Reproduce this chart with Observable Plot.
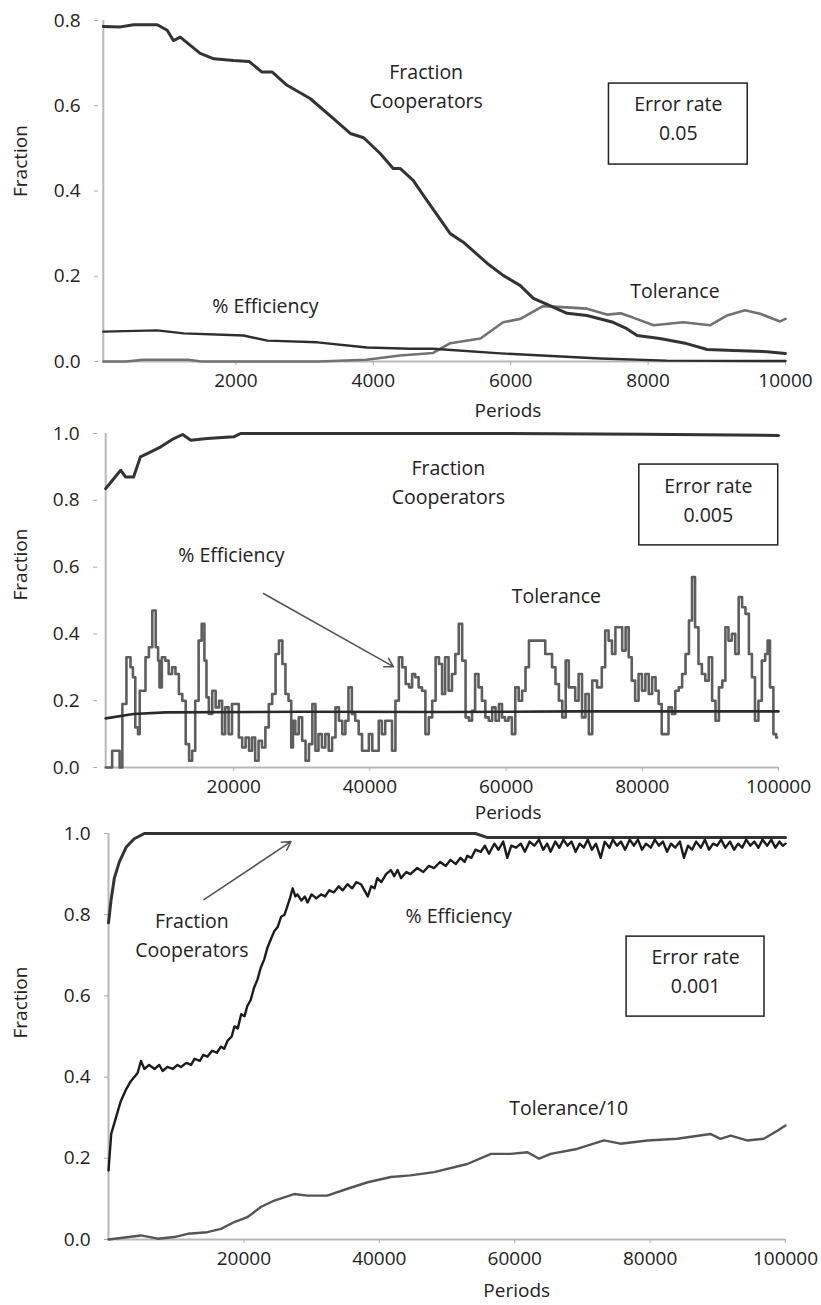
<!DOCTYPE html>
<html>
<head>
<meta charset="utf-8">
<script src="https://cdn.jsdelivr.net/npm/d3@7"></script>
<script src="https://cdn.jsdelivr.net/npm/@observablehq/plot@0.6"></script>
<style>
  html, body { margin: 0; padding: 0; background: #fff; }
  #chart { width: 821px; }
  #chart svg { display: block; overflow: visible; }
</style>
</head>
<body>
<div id="chart"></div>
<script>
// ---------- Panel 1: error rate 0.05 (periods 0..10000) ----------
const p1Ticks = [2000, 4000, 6000, 8000, 10000];
const p1YTicks = [0, 0.2, 0.4, 0.6, 0.8];
const p1Cooperators = [[70,.786],[320,.785],[510,.79],[855,.79],[1000,.777],[1090,.753],[1190,.761],[1480,.723],[1680,.71],[1965,.706],[2190,.704],[2380,.679],[2530,.679],[2745,.648],[3080,.617],[3420,.57],[3665,.535],[3860,.525],[4100,.488],[4290,.453],[4390,.453],[4580,.425],[4780,.378],[5120,.30],[5310,.28],[5660,.23],[5890,.202],[6140,.178],[6330,.148],[6530,.134],[6820,.113],[7110,.108],[7490,.092],[7690,.077],[7840,.061],[8170,.054],[8560,.042],[8860,.028],[9240,.026],[9730,.023],[10000,.019]];
const p1Efficiency = [[70,.070],[855,.073],[1240,.066],[2110,.061],[2460,.049],[3185,.045],[3910,.033],[4540,.030],[4870,.030],[5850,.019],[7300,.007],[8270,.002],[10000,.001]];
const p1Tolerance = [[70,0],[400,0],[650,.004],[1300,.004],[1500,0],[3200,0],[3900,.004],[4390,.014],[4870,.02],[5120,.043],[5560,.054],[5890,.092],[6140,.10],[6470,.13],[6820,.127],[7110,.124],[7400,.11],[7600,.113],[7780,.103],[8080,.085],[8510,.092],[8900,.085],[9150,.108],[9410,.12],[9630,.112],[9920,.094],[10000,.10]];
const p1Notes = [
  {x: 4770, y: 0.65, text: "Fraction\nCooperators"},
  {x: 2430, y: 0.136, text: "% Efficiency"},
  {x: 8390, y: 0.171, text: "Tolerance"}
];
const p1Box = {x1: 7430, x2: 9450, y1: 0.462, y2: 0.652, text: "Error rate\n0.05", cx: 8440, cy: 0.575};

// ---------- Panel 2: error rate 0.005 (periods 0..100000) ----------
const p2Ticks = [20000, 40000, 60000, 80000, 100000];
const p2YTicks = [0, 0.2, 0.4, 0.6, 0.8, 1.0];
const p2Cooperators = [[1200,.835],[2200,.86],[3400,.89],[4100,.87],[5300,.87],[6300,.93],[7300,.94],[9300,.96],[11200,.985],[12500,.997],[13700,.98],[16100,.985],[20000,.99],[21000,1.0],[60000,1.0],[80000,.998],[100000,.994]];
const p2Efficiency = [[1200,.147],[5300,.16],[10000,.165],[30000,.167],[50000,.166],[70000,.168],[100000,.168]];
const p2Tolerance = [[1200,0],[1900,0],[2400,.05],[3100,.05],[3400,0],[3900,.19],[4600,.33],[5100,.30],[5300,.27],[5800,.12],[6100,.10],[6300,.23],[6800,.23],[7300,.33],[7800,.36],[8300,.47],[8800,.36],[9000,.32],[9200,.24],[9700,.33],[10200,.32],[10700,.28],[11200,.30],[11700,.28],[12200,.22],[12700,.20],[13200,.07],[13700,.02],[14100,.05],[14600,.20],[15100,.38],[15500,.43],[15900,.32],[16100,.21],[16600,.16],[17100,.23],[17600,.18],[18100,.20],[18500,.10],[19000,.18],[19500,.10],[20000,.19],[20500,.19],[21000,.09],[21500,.06],[22000,.09],[22500,.05],[22900,.09],[23400,.02],[23900,.08],[24400,.06],[24900,.12],[25400,.19],[25900,.22],[26400,.34],[26900,.38],[27400,.31],[27800,.22],[28300,.20],[28600,.06],[28800,.14],[29300,.10],[29800,.15],[30300,.08],[30800,.02],[31300,.07],[31800,.19],[32200,.05],[32700,.10],[33200,.06],[33700,.10],[34200,.05],[34700,.09],[35200,.18],[35700,.14],[36200,.10],[36600,.14],[37100,.24],[37600,.16],[38100,.14],[38600,.10],[39100,.05],[39600,.05],[40100,.10],[40600,.05],[41100,.05],[41500,.14],[42000,.10],[42500,.14],[43000,.14],[43500,.05],[44000,.20],[44500,.33],[45000,.30],[45500,.25],[46000,.24],[46400,.28],[46900,.27],[47400,.24],[47900,.23],[48400,.10],[48900,.15],[49400,.20],[49900,.33],[50400,.31],[50800,.22],[51300,.33],[51800,.23],[52300,.28],[52800,.34],[53300,.43],[53800,.32],[54300,.15],[54800,.14],[55200,.17],[55700,.28],[56200,.24],[56700,.20],[57200,.15],[57700,.14],[58200,.18],[58700,.14],[59200,.19],[59600,.15],[60100,.14],[60600,.15],[61100,.10],[61600,.24],[62100,.20],[62600,.23],[63100,.30],[63600,.38],[64100,.38],[64500,.38],[65000,.38],[65500,.38],[66000,.34],[66500,.34],[67000,.30],[67500,.25],[68000,.20],[68500,.15],[69000,.32],[69400,.24],[69900,.24],[70400,.20],[70900,.28],[71400,.15],[71900,.22],[72400,.10],[72900,.26],[73800,.24],[74300,.30],[74800,.41],[75300,.38],[75800,.34],[76300,.42],[76800,.42],[77300,.35],[77800,.42],[78200,.33],[78700,.26],[79200,.20],[79700,.28],[80200,.23],[80700,.28],[81200,.22],[81700,.27],[82200,.23],[82600,.19],[83100,.10],[83600,.10],[84100,.18],[84600,.16],[85100,.23],[85600,.24],[86100,.28],[86600,.34],[87100,.44],[87500,.57],[88000,.42],[88500,.31],[89000,.28],[89500,.26],[90000,.33],[90500,.20],[91000,.14],[91500,.24],[92000,.26],[92400,.42],[92900,.38],[93400,.40],[93900,.34],[94400,.51],[94900,.48],[95400,.46],[95900,.34],[96300,.27],[96800,.14],[97300,.20],[97800,.32],[98300,.34],[98500,.38],[99000,.24],[99500,.10],[99800,.09]];
const p2Notes = [
  {x: 51520, y: 0.861, text: "Fraction\nCooperators"},
  {x: 19670, y: 0.644, text: "% Efficiency"},
  {x: 67380, y: 0.521, text: "Tolerance"}
];
const p2Box = {x1: 79560, x2: 99960, y1: 0.665, y2: 0.907, text: "Error rate\n0.005", cx: 89690, cy: 0.807};
const p2Arrow = {x1: 24370, y1: 0.521, x2: 43450, y2: 0.302};

// ---------- Panel 3: error rate 0.001 (periods 0..100000) ----------
const p3Ticks = [20000, 40000, 60000, 80000, 100000];
const p3YTicks = [0, 0.2, 0.4, 0.6, 0.8, 1.0];
const p3Cooperators = [[0,.78],[370,.835],[860,.89],[1600,.93],[2600,.966],[3800,.987],[5300,1.0],[54200,1.0],[56000,.99],[100000,.99]];
const p3Efficiency = [[0,.17],[400,.26],[1100,.30],[1800,.34],[2600,.37],[3300,.39],[4300,.41],[4800,.44],[5300,.42],[6000,.43],[6800,.42],[7500,.43],[8000,.415],[8700,.425],[9500,.42],[10200,.43],[10700,.425],[11500,.435],[12200,.43],[12700,.445],[13500,.44],[14000,.455],[14600,.45],[15300,.465],[16000,.46],[16600,.475],[17100,.47],[17600,.49],[18200,.50],[18600,.525],[19100,.52],[19600,.555],[20100,.55],[20500,.575],[21000,.59],[21500,.62],[22000,.64],[22500,.67],[23000,.69],[23500,.72],[24000,.74],[24500,.76],[25000,.77],[25500,.795],[26000,.80],[26400,.82],[26800,.84],[27200,.865],[27600,.845],[27900,.85],[28500,.835],[29000,.845],[29400,.83],[30000,.85],[30700,.84],[31400,.85],[32000,.845],[32600,.86],[33300,.855],[34000,.87],[34600,.86],[35300,.875],[36000,.865],[36600,.88],[37300,.875],[37800,.86],[38300,.845],[38800,.87],[39300,.865],[39700,.89],[40300,.88],[41000,.90],[41700,.91],[42200,.895],[42700,.91],[43200,.89],[44000,.905],[44600,.90],[45600,.915],[46500,.905],[47300,.92],[48100,.915],[49000,.93],[49800,.92],[50500,.935],[51300,.925],[52000,.94],[52600,.93],[53000,.945],[53600,.94],[54200,.96],[55000,.955],[55600,.97],[56200,.95],[57000,.975],[57600,.96],[58300,.98],[58900,.94],[59500,.97],[60200,.965],[60900,.975],[61500,.955],[62200,.98],[62900,.97],[63600,.985],[64200,.96],[64800,.975],[65300,.955],[66000,.98],[66600,.965],[67200,.985],[67800,.97],[68400,.98],[69000,.955],[69600,.975],[70200,.965],[70800,.985],[71400,.96],[72000,.975],[72700,.94],[73300,.98],[74000,.965],[74500,.985],[75100,.97],[75700,.98],[76300,.96],[77000,.985],[77600,.97],[78200,.985],[78800,.96],[79400,.975],[80100,.965],[80700,.985],[81300,.97],[81900,.98],[82500,.955],[83100,.975],[83700,.965],[84400,.98],[85000,.94],[85600,.97],[86200,.96],[86800,.98],[87500,.965],[88100,.985],[88700,.96],[89300,.975],[89900,.97],[90500,.985],[91100,.965],[91800,.98],[92400,.96],[93000,.975],[93600,.965],[94200,.985],[94800,.97],[95400,.98],[96000,.965],[96600,.985],[97300,.97],[97900,.985],[98500,.965],[99100,.98],[99600,.97],[100000,.975]];
const p3Tolerance10 = [[0,0],[4800,.01],[7300,.002],[9700,.006],[11700,.014],[14600,.018],[16600,.026],[18600,.043],[20500,.055],[22500,.08],[24500,.096],[27400,.112],[29400,.108],[32300,.108],[35300,.125],[38300,.141],[41700,.154],[44600,.158],[48100,.166],[53000,.186],[56500,.211],[59400,.211],[61900,.215],[63600,.199],[65300,.211],[69200,.223],[73200,.244],[75600,.236],[79600,.244],[84000,.248],[88900,.26],[90400,.248],[91900,.256],[94300,.244],[96800,.248],[98800,.268],[100000,.281]];
const p3Notes = [
  {x: 12320, y: 0.754, text: "Fraction\nCooperators"},
  {x: 51730, y: 0.803, text: "% Efficiency"},
  {x: 67970, y: 0.33, text: "Tolerance/10"}
];
const p3Box = {x1: 76530, x2: 96900, y1: 0.549, y2: 0.746, text: "Error rate\n0.001", cx: 86720, cy: 0.666};
const p3Arrow = {x1: 14100, y1: 0.837, x2: 26940, y2: 0.980};

// ---------- drawing ----------
const INK = "#222";
const FONT = "'Open Sans', 'Noto Sans', sans-serif";
const NOTE_SIZE = 19.5;

function panel(c) {
  const marks = [
    Plot.ruleX([c.axisStart], {y1: 0, y2: c.yMax, stroke: "#b8b8b8", strokeWidth: 2}),
    Plot.ruleY([0], {x1: c.axisStart, x2: c.xMax, stroke: "#b8b8b8", strokeWidth: 2}),
    Plot.axisX({ticks: c.xTicks, tickFormat: d3.format("d"), tickSize: 4, tickPadding: 8, stroke: "#aaa", label: null}),
    Plot.axisY({ticks: c.yTicks, tickFormat: d3.format(".1f"), tickSize: 4, tickPadding: 14, stroke: "#aaa", label: null})
  ];
  for (const s of c.lines) {
    marks.push(Plot.line(s.data, {x: d => d[0], y: d => d[1], stroke: s.stroke, strokeWidth: s.width, curve: s.curve || "linear", strokeLinejoin: "round", strokeLinecap: "round"}));
  }
  if (c.arrow) {
    marks.push(Plot.arrow([c.arrow], {x1: "x1", y1: "y1", x2: "x2", y2: "y2", stroke: "#555", strokeWidth: 1.6, headLength: 9}));
  }
  marks.push(Plot.rect([c.box], {x1: "x1", x2: "x2", y1: "y1", y2: "y2", fill: "white", stroke: INK, strokeWidth: 1.5}));
  marks.push(Plot.text([c.box], {x: "cx", y: "cy", text: "text", lineHeight: 1.5, fontSize: NOTE_SIZE, fill: INK}));
  marks.push(Plot.text(c.notes, {x: "x", y: "y", text: "text", lineHeight: 1.5, fontSize: NOTE_SIZE, fill: INK}));
  marks.push(Plot.text(["Fraction"], {frameAnchor: "left", rotate: -90, dx: 20 - c.marginLeft, dy: c.yLabelDy, fill: INK}));
  marks.push(Plot.text([{x: c.periodsX, y: 0}], {x: "x", y: "y", text: () => "Periods", dy: c.periodsDy, fill: INK}));
  return Plot.plot({
    width: 821,
    height: c.height,
    marginTop: c.marginTop,
    marginBottom: c.marginBottom,
    marginLeft: c.marginLeft,
    marginRight: c.marginRight,
    style: {fontFamily: FONT, fontSize: "19px", color: INK, background: "white", overflow: "visible"},
    x: {domain: [0, c.xMax]},
    y: {domain: [0, c.yMax]},
    marks
  });
}

const chart = document.getElementById("chart");

chart.append(panel({
  height: 424, marginTop: 20, marginBottom: 63, marginLeft: 98, marginRight: 36,
  xMax: 10000, yMax: 0.8, axisStart: 70, xTicks: p1Ticks, yTicks: p1YTicks,
  lines: [
    {data: p1Tolerance, stroke: "#727272", width: 2.6},
    {data: p1Efficiency, stroke: "#2e2e2e", width: 2.4},
    {data: p1Cooperators, stroke: "#333", width: 3}
  ],
  notes: p1Notes, box: p1Box, arrow: null,
  yLabelDy: 6, periodsX: 5960, periodsDy: 49
}));

chart.append(panel({
  height: 398, marginTop: 9, marginBottom: 55, marginLeft: 97, marginRight: 43,
  xMax: 100000, yMax: 1.0, axisStart: 1200, xTicks: p2Ticks, yTicks: p2YTicks,
  lines: [
    {data: p2Tolerance, stroke: "#5e5e5e", width: 2.6, curve: "step"},
    {data: p2Efficiency, stroke: "#2a2a2a", width: 2.6},
    {data: p2Cooperators, stroke: "#333", width: 3}
  ],
  notes: p2Notes, box: p2Box, arrow: p2Arrow,
  yLabelDy: 0, periodsX: 60300, periodsDy: 45
}));

chart.append(panel({
  height: 483, marginTop: 11, marginBottom: 66, marginLeft: 108, marginRight: 36,
  xMax: 100000, yMax: 1.0, axisStart: 0, xTicks: p3Ticks, yTicks: p3YTicks,
  lines: [
    {data: p3Tolerance10, stroke: "#555", width: 2.4},
    {data: p3Cooperators, stroke: "#333", width: 3},
    {data: p3Efficiency, stroke: "#1c1c1c", width: 2.4}
  ],
  notes: p3Notes, box: p3Box, arrow: p3Arrow,
  yLabelDy: 2, periodsX: 60300, periodsDy: 51
}));
</script>
</body>
</html>
